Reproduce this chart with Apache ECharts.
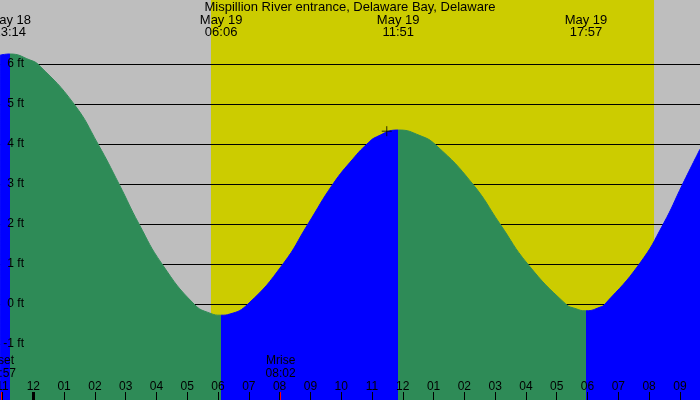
<!DOCTYPE html>
<html>
<head>
<meta charset="utf-8">
<script src="https://cdn.jsdelivr.net/npm/echarts@6/dist/echarts.min.js"></script>
<style>
html, body { margin: 0; padding: 0; background: #bebebe; }
#chart { width: 700px; height: 400px; }
</style>
</head>
<body>
<div id="chart"></div>
<script>
// hours counted from May 19 00:00
var tideHours = [-1.08, -0.767, -0.107, 0.185, 1.322, 2.101, 2.784, 3.433, 4.18, 5.219, 5.739, 6.1, 6.388, 6.973, 8.11, 8.922, 9.734, 10.384, 10.838, 11.153, 11.85, 12.559, 13.079, 14.271, 15.158, 16.057, 17.291, 17.593, 17.95, 18.405, 18.568, 19.682, 20.461, 21.091, 21.653]
var tideFeet = [6.22, 6.25, 6.1, 5.97, 5.0, 4.0, 3.0, 2.0, 1.0, 0.0, -0.23, -0.28, -0.25, 0.0, 1.0, 2.0, 3.0, 3.63, 4.0, 4.18, 4.35, 4.21, 3.97, 3.0, 2.0, 1.0, 0.0, -0.11, -0.17, -0.08, 0.0, 1.0, 2.0, 3.0, 3.87]

var extremeHours = [-0.767, 6.1, 11.85, 17.95]
var extremeLabels = ["May 18\n23:14", "May 19\n06:06", "May 19\n11:51", "May 19\n17:57"]

var sunrise = 5.77
var sunset = 20.16

var moonHours = [-1.05, 8.033]
var moonLabels = ["Mset\n22:57", "Mrise\n08:02"]

var nowMark = [11.48, 4.32]

var hourTicks = [-1, 0, 1, 2, 3, 4, 5, 6, 7, 8, 9, 10, 11, 12, 13, 14, 15, 16, 17, 18, 19, 20, 21]
var feetTicks = [-1, 0, 1, 2, 3, 4, 5, 6]

var xMin = -1.0815
var xMax = 21.653

var tideData = tideHours.map(function (h, i) { return [h, tideFeet[i]] })

function nearest(arr, v) {
    var best = 0
    arr.forEach(function (a, i) {
        if (Math.abs(a - v) < Math.abs(arr[best] - v)) best = i
    })
    return best
}

var font = "Liberation Sans"

function hiddenAxis(extra) {
    var base = {
        type: "value",
        min: xMin,
        max: xMax,
        splitLine: { show: false },
        axisLine: { show: false, onZero: false },
        axisTick: { show: false },
        axisLabel: { show: false },
        z: 20,
    }
    return Object.assign(base, extra)
}

var chart = echarts.init(document.querySelector("#chart"))

var option = {
    animation: false,
    backgroundColor: "#bebebe",
    title: {
        text: "Mispillion River entrance, Delaware Bay, Delaware",
        left: "center",
        top: 0,
        padding: [1, 0, 0, 0],
        textStyle: { fontFamily: font, fontSize: 13, fontWeight: "normal", color: "#000" },
    },
    grid: { left: 0, right: 0, top: 0, bottom: 0, containLabel: false, outerBoundsMode: "none" },
    xAxis: [
        hiddenAxis({
            position: "bottom",
            axisTick: { show: true, inside: true, length: 8, customValues: hourTicks, lineStyle: { color: "#000", width: 1 } },
            axisLabel: {
                show: true, inside: true, margin: 7, customValues: hourTicks,
                fontFamily: font, fontSize: 12, color: "#000",
                formatter: function (v) {
                    var h = Math.round(v)
                    var k = ((h % 12) + 12) % 12
                    if (k === 0) k = 12
                    return (k < 10 ? "0" : "") + k
                },
            },
        }),
        hiddenAxis({
            position: "bottom",
            axisTick: { show: true, inside: true, length: 8, customValues: [0], lineStyle: { color: "#000", width: 3 } },
        }),
        hiddenAxis({
            position: "bottom",
            axisTick: { show: true, inside: true, length: 8, customValues: moonHours, lineStyle: { color: "#ff0000", width: 1 } },
            axisLabel: {
                show: true, inside: true, margin: 20, customValues: moonHours,
                fontFamily: font, fontSize: 12, lineHeight: 13, color: "#000", align: "center",
                formatter: function (v) { return moonLabels[nearest(moonHours, v)] },
            },
        }),
        hiddenAxis({
            position: "top",
            axisLabel: {
                show: true, inside: true, margin: 14, customValues: extremeHours,
                fontFamily: font, fontSize: 13, lineHeight: 12, color: "#000", align: "center",
                formatter: function (v) { return extremeLabels[nearest(extremeHours, v)] },
            },
        }),
    ],
    yAxis: {
        type: "value",
        min: -2.4,
        max: 7.6,
        z: 20,
        splitLine: { show: false },
        axisLine: { show: false, onZero: false },
        axisTick: { show: false },
        axisLabel: {
            inside: true, margin: 24, align: "right", customValues: feetTicks,
            fontFamily: font, fontSize: 12, color: "#000",
            formatter: "{value} ft",
        },
    },
    visualMap: {
        show: false,
        type: "piecewise",
        dimension: 0,
        seriesIndex: 1,
        pieces: [
            { lt: extremeHours[0], color: "#0000ff" },
            { gte: extremeHours[0], lt: extremeHours[1], color: "#2e8b57" },
            { gte: extremeHours[1], lt: extremeHours[2], color: "#0000ff" },
            { gte: extremeHours[2], lt: extremeHours[3], color: "#2e8b57" },
            { gte: extremeHours[3], color: "#0000ff" },
        ],
    },
    series: [
        {
            type: "line",
            data: [],
            z: 1,
            silent: true,
            markArea: {
                silent: true,
                z: 1,
                itemStyle: { color: "#cccc00" },
                data: [[{ xAxis: sunrise }, { xAxis: sunset }]],
            },
            markLine: {
                silent: true,
                z: 3,
                symbol: ["none", "none"],
                label: { show: false },
                lineStyle: { color: "#000", type: "solid", width: 1 },
                data: feetTicks.map(function (f) { return { yAxis: f } }),
            },
        },
        {
            type: "line",
            z: 10,
            smooth: true,
            showSymbol: false,
            silent: true,
            data: tideData,
            lineStyle: { width: 1 },
            areaStyle: { opacity: 1, origin: "start" },
        },
        {
            type: "scatter",
            z: 15,
            silent: true,
            data: [nowMark],
            symbol: "path://M0,5L10,5M5,0L5,10",
            symbolSize: 10,
            itemStyle: { color: "none", borderColor: "#000", borderWidth: 1 },
        },
    ],
}

chart.setOption(option)
</script>
</body>
</html>
